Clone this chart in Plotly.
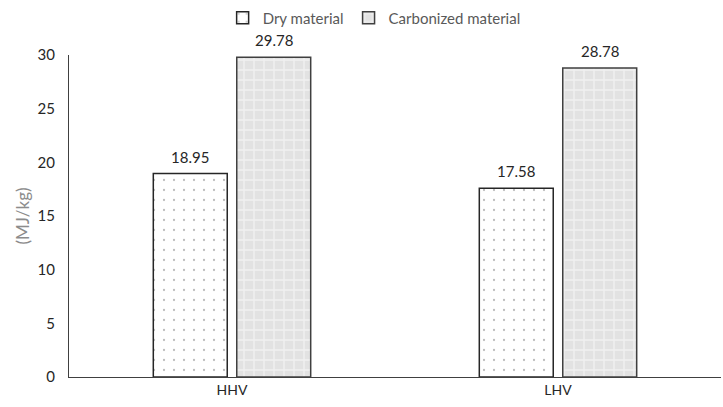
import plotly.graph_objects as go

categories = ["HHV", "LHV"]
dry_values = [18.95, 17.58]
carbonized_values = [29.78, 28.78]
y_ticks = [0, 5, 10, 15, 20, 25, 30]

font_family = "Lato, 'Open Sans', sans-serif"

fig = go.Figure()
fig.add_trace(go.Bar(
    name="Dry material",
    x=categories,
    y=dry_values,
    marker=dict(
        color="white",
        line=dict(color="#262626", width=1.5),
        pattern=dict(shape=".", fgcolor="#7a7a7a", bgcolor="white", size=10, solidity=0.04),
    ),
))
fig.add_trace(go.Bar(
    name="Carbonized material",
    x=categories,
    y=carbonized_values,
    marker=dict(
        color="#e6e6e6",
        line=dict(color="#404040", width=1.5),
        pattern=dict(shape="+", fgcolor="white", bgcolor="#e2e2e2", size=10, solidity=0.25),
    ),
))

# value labels placed above each bar (bars sit +/- ~42 px from the category centre)
for vals, shift in ((dry_values, -42), (carbonized_values, 42)):
    for cat, v in zip(categories, vals):
        fig.add_annotation(
            x=cat, y=v, xref="x", yref="y",
            text=f"{v:.2f}", showarrow=False,
            xshift=shift, yshift=17,
            font=dict(size=15, color="#262626", family=font_family),
        )

fig.update_layout(
    width=723,
    height=407,
    margin=dict(l=69, r=2, t=53, b=30),
    paper_bgcolor="white",
    plot_bgcolor="white",
    barmode="group",
    bargap=0.488,
    bargroupgap=0.114,
    font=dict(family=font_family, size=14, color="#595959"),
    showlegend=True,
    legend=dict(
        orientation="h",
        x=0.468, xanchor="center",
        y=1.115, yanchor="middle",
        font=dict(size=15, color="#595959"),
        traceorder="normal",
        itemwidth=30,
    ),
    xaxis=dict(
        showline=True, linecolor="#404040", linewidth=1,
        showgrid=False, ticks="",
        tickfont=dict(size=14, color="#262626"),
    ),
    yaxis=dict(
        range=[0, 30],
        tickvals=y_ticks,
        showline=True, linecolor="#404040", linewidth=1,
        showgrid=False, zeroline=False, ticks="",
        ticklabelstandoff=10,
        tickfont=dict(size=15, color="#262626"),
        title=dict(text="(MJ/kg)", font=dict(size=17, color="#8c8c8c"), standoff=3),
    ),
)

fig.write_html("out.html")
